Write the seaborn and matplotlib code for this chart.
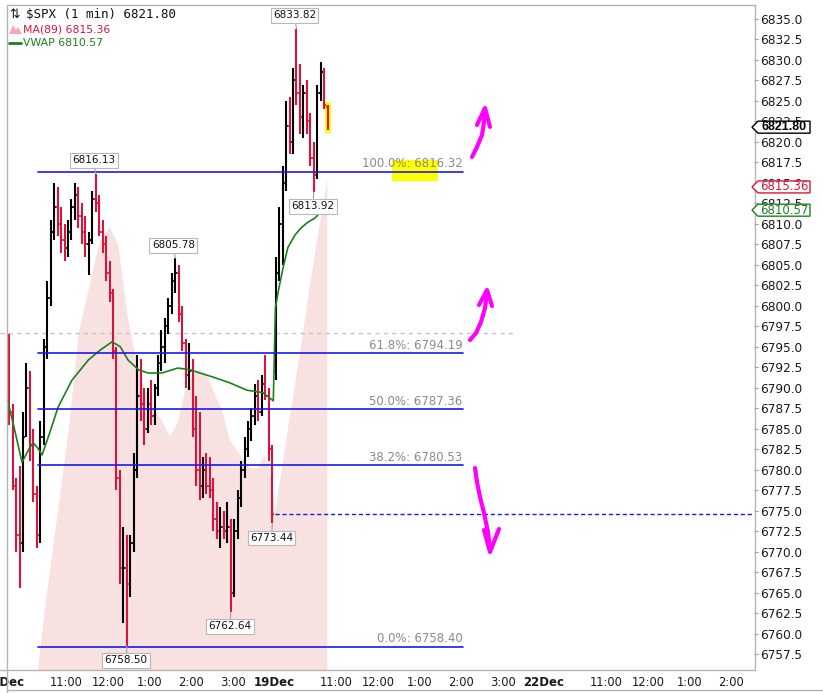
import numpy as np
import pandas as pd
import matplotlib
matplotlib.use("Agg")
import matplotlib.pyplot as plt
import seaborn as sns
from matplotlib.lines import Line2D
from matplotlib.patches import Polygon, Rectangle

# ------------------------------------------------------------------ data
symbol_text = "$SPX (1 min)"
last_price = 6821.80
ma_name = "MA(89)"
ma_last = 6815.36
vwap_name = "VWAP"
vwap_last = 6810.57

day_labels = ["18Dec", "19Dec", "22Dec"]
hour_labels = ["11:00", "12:00", "1:00", "2:00", "3:00"]
hour_offsets_min = [90, 150, 210, 270, 330]  # minutes after the 9:30 open

# 5-minute OHLC, 18 Dec (first bar 9:35)
d18_open = [6794, 6787, 6778, 6772, 6771, 6785, 6790, 6783, 6777, 6773,
            6784, 6795, 6801, 6809, 6812, 6810, 6808, 6807, 6809, 6812,
            6813.5, 6811, 6809, 6807.5, 6808, 6813, 6812.5, 6809, 6807.5, 6804,
            6801.5, 6794.5, 6779, 6768, 6768, 6766, 6771, 6780, 6789, 6788,
            6785, 6788, 6786.5, 6790, 6793, 6795, 6797.5, 6800, 6803, 6804,
            6799, 6795.5, 6791.5, 6792, 6785, 6780, 6778, 6780, 6778, 6777.5,
            6774, 6772.5, 6773, 6772.5, 6773, 6765, 6772.5, 6776.5, 6780, 6782.5,
            6785, 6786.5, 6789, 6787, 6790.5, 6789, 6782.5]
d18_high = [6796.5, 6788, 6779, 6780.5, 6787, 6793, 6792, 6785, 6778, 6786,
            6796, 6803, 6810.5, 6815, 6814.5, 6812, 6810, 6810.5, 6813, 6815,
            6814.5, 6812.5, 6811, 6809, 6814, 6816.13, 6813.5, 6810.5, 6808.5, 6805.5,
            6802, 6795, 6780, 6773, 6772, 6772, 6782, 6794, 6793.5, 6790,
            6790, 6791, 6790.5, 6794, 6797, 6798.5, 6801, 6804, 6805.78, 6805,
            6800, 6796, 6795.5, 6793.5, 6789, 6787, 6781.5, 6782, 6781.5, 6779,
            6776, 6775.5, 6775, 6776, 6774, 6774, 6777.5, 6781, 6784, 6786,
            6787.5, 6790.5, 6791, 6791.5, 6794, 6790, 6783]
d18_low = [6785.5, 6777.5, 6770, 6765.6, 6770, 6784, 6781, 6776, 6770.5, 6771,
           6783, 6793.5, 6800, 6808, 6808.5, 6806.5, 6805.5, 6806, 6808, 6810.5,
           6809.5, 6807.5, 6806, 6803.8, 6807.5, 6811.5, 6808.5, 6806.5, 6803, 6800.5,
           6793.5, 6777.5, 6766, 6761.3, 6758.5, 6764.5, 6770, 6779, 6786, 6783,
           6784.5, 6785.5, 6785.5, 6789, 6792, 6793, 6796.5, 6799, 6801.5, 6798,
           6794.5, 6790, 6789.7, 6784, 6778, 6776.3, 6776.5, 6777, 6776.5, 6772.5,
           6771.5, 6770.5, 6771.5, 6771, 6762.64, 6764.5, 6771.5, 6775.5, 6779, 6781.5,
           6783.5, 6785.5, 6786, 6786.5, 6788.5, 6781, 6773.44]
d18_close = [6787, 6779, 6772, 6770, 6784, 6790, 6783, 6777, 6772, 6784,
             6795, 6801, 6809, 6812, 6810, 6808, 6807, 6809, 6812, 6813.5,
             6811, 6809, 6807.5, 6808, 6813, 6812.5, 6809, 6807.5, 6804, 6801.5,
             6794.5, 6779, 6768, 6768, 6766, 6771, 6780, 6789, 6788, 6785,
             6788, 6786.5, 6790, 6793, 6795, 6797.5, 6800, 6803, 6804, 6799,
             6795.5, 6791.5, 6792, 6785, 6780, 6778, 6780, 6778, 6777.5, 6774,
             6772.5, 6773, 6772.5, 6773, 6765, 6772.5, 6776.5, 6780, 6782.5, 6785,
             6786.5, 6789, 6787, 6790.5, 6789, 6782.5, 6774.59]

# 5-minute OHLC, 19 Dec (first bar 9:30)
d19_open = [6792, 6804, 6810, 6815, 6822, 6820, 6827.5, 6826, 6823, 6826,
            6822.5, 6818, 6816, 6826, 6828.5, 6824.3]
d19_high = [6806, 6812, 6817, 6825, 6825.5, 6829, 6833.82, 6829.5, 6827, 6827.5,
            6823.5, 6820, 6827, 6829.8, 6829, 6824.5]
d19_low = [6791, 6803, 6805, 6814, 6818.5, 6818.5, 6824.5, 6821, 6820.5, 6821,
           6817, 6813.92, 6815.5, 6825, 6824, 6821.5]
d19_close = [6804, 6810, 6815, 6822, 6820, 6827.5, 6826, 6823, 6826, 6822.5,
             6818, 6816, 6826, 6828.5, 6824.5, 6821.8]

# MA(89) and VWAP read at trading minutes counted from 18 Dec 9:30
ma_minutes = [49, 59, 81, 95, 108, 129, 139, 153, 165, 179, 187, 194, 208, 228,
              240, 251, 261, 272, 283, 293, 305, 315, 326, 341, 355, 367, 377,
              387, 391, 413, 428, 442, 457, 467]
ma_values = [6755.5, 6763, 6776.8, 6786, 6796.7, 6804.5, 6808, 6809.6, 6807.4,
             6798.5, 6795, 6792.5, 6788.5, 6786, 6784, 6785.7, 6789.4, 6791.6,
             6792.2, 6791.6, 6789.1, 6787.3, 6783.6, 6781.8, 6780.2, 6780.2,
             6781.8, 6779, 6774.5, 6786.5, 6794.5, 6802.5, 6810.5, 6815.36]
vwap_minutes = [5, 15, 26, 34, 42, 49, 55, 66, 78, 98, 122, 139, 156, 168, 179,
                194, 208, 228, 251, 269, 279, 302, 326, 351, 374, 389, 392, 396,
                403, 410, 420, 429, 439, 449, 464]
vwap_values = [6788.5, 6785.0, 6780.9, 6782.2, 6783.3, 6782.6, 6781.8, 6784.5,
               6787.6, 6790.9, 6793.4, 6794.6, 6795.6, 6795.0, 6793.4, 6792.2,
               6791.8, 6791.8, 6792.4, 6792.2, 6791.9, 6791.3, 6790.6, 6789.7,
               6789.4, 6788.4, 6799.7, 6801.7, 6804.6, 6807.1, 6808.6, 6809.5,
               6810.2, 6810.7, 6812.0]

fib_pcts = ["100.0%", "61.8%", "50.0%", "38.2%", "0.0%"]
fib_levels = [6816.32, 6794.19, 6787.36, 6780.53, 6758.40]
fib_start_min, fib_end_min = 49, 663
prior_close = 6774.59
cursor_level = 6796.7
swing_highs = [6833.82, 6816.13, 6805.78]
swing_lows = [6813.92, 6773.44, 6762.64, 6758.50]

# ------------------------------------------------------------------ style
W, H = 823, 693
X0_PX, PX_PER_MIN = 4.0, 0.6923
SESSION, BAR = 390, 5
UP, DOWN = "#000000", "#d7143c"
PINK = "#f7e1e1"
GREEN = "#1f7f1f"
BLUE = "#1a1aee"
MAGENTA = "#ff00ff"
FRAME = "#b4b4b4"
XLIM = ((0 - X0_PX) / PX_PER_MIN, (754 - X0_PX) / PX_PER_MIN)
YLIM = (6755.55, 6836.71)

sns.set_theme(style="white")
plt.rcParams["font.family"] = ["DejaVu Sans"]

fig = plt.figure(figsize=(W / 100, H / 100), dpi=100)
fig.patch.set_facecolor("white")
ax = fig.add_axes([0, 23 / H, 754 / W, 665 / H])
ax.set_facecolor("white")
for s in ax.spines.values():
    s.set_visible(False)

# axis ticks first (set_xticks may widen limits, so limits are fixed afterwards)
ax.yaxis.tick_right()
yt = np.arange(6757.5, 6835.01, 2.5)
ax.set_yticks(yt)
ax.set_yticklabels([f"{v:.1f}" for v in yt])
ax.tick_params(axis="y", length=3, width=0.8, color="#9a9a9a", pad=1.5,
               labelsize=8.7, labelcolor="#1a1a1a")
xt, xl, bold = [], [], []
for d, dl in enumerate(day_labels):
    if XLIM[0] <= d * SESSION <= XLIM[1]:
        xt.append(d * SESSION); xl.append(dl); bold.append(True)
    for off, hl in zip(hour_offsets_min, hour_labels):
        if d * SESSION + off <= XLIM[1]:
            xt.append(d * SESSION + off); xl.append(hl); bold.append(False)
ax.set_xticks(xt)
ax.set_xticklabels(xl)
ax.tick_params(axis="x", length=0, pad=4, labelsize=8.3, labelcolor="#1a1a1a")
for t, b in zip(ax.get_xticklabels(), bold):
    if b:
        t.set_fontweight("bold")
        t.set_fontsize(8.5)
ax.set_xlim(*XLIM)
ax.set_ylim(*YLIM)


def bars_frame(day, first_start, o, h, l, c):
    start = day * SESSION + first_start + BAR * np.arange(len(o))
    return pd.DataFrame(dict(x=start + BAR / 2, open=o, high=h, low=l, close=c))


bars = pd.concat([bars_frame(0, 5, d18_open, d18_high, d18_low, d18_close),
                  bars_frame(1, 0, d19_open, d19_high, d19_low, d19_close)],
                 ignore_index=True)
cols = np.where(bars.close >= bars.open, UP, DOWN)

# MA(89) shaded area
ax.fill_between(ma_minutes, 6700, ma_values, color=PINK, lw=0, zorder=1)

# grey cursor line and blue dashed prior-close line
ax.plot([XLIM[0], 735], [cursor_level] * 2, color="#c4c4c4", lw=1,
        dashes=(3, 3), zorder=2)
ax.plot([392, XLIM[1]], [prior_close] * 2, color=BLUE, lw=1,
        dashes=(3, 2), zorder=2)

# highlight behind the last bar
last = bars.iloc[-1]
ax.add_patch(Rectangle((last.x - 4.5, last.low - 0.4), 9.5, last.high - last.low + 0.8,
                       fc="#ffff00", ec="none", zorder=2.5))

# OHLC bars
tw = 2.6
ax.vlines(bars.x, bars.low, bars.high, colors=cols, lw=1.5, zorder=3)
ax.hlines(bars.open, bars.x - tw, bars.x, colors=cols, lw=1.2, zorder=3)
ax.hlines(bars.close, bars.x, bars.x + tw, colors=cols, lw=1.2, zorder=3)

# VWAP
sns.lineplot(x=vwap_minutes, y=vwap_values, ax=ax, color=GREEN, lw=1.2,
             estimator=None, sort=False, legend=False, zorder=4)
ax.set_xlim(*XLIM)
ax.set_ylim(*YLIM)

# yellow highlighter on the 100% label (screen annotation)
inv = ax.transData.inverted()
hx0, hy0 = inv.transform((392, H - 181))
hx1, hy1 = inv.transform((438, H - 160))
ax.add_patch(Rectangle((hx0, hy0), hx1 - hx0, hy1 - hy0, fc="#ffff00", ec="none",
                       zorder=4.5))

# Fibonacci lines
for pct, lvl in zip(fib_pcts, fib_levels):
    ax.plot([fib_start_min, fib_end_min], [lvl, lvl], color=BLUE, lw=1.2, zorder=5)
    ax.annotate(f"{pct}: {lvl:.2f}", xy=(fib_end_min - 1, lvl), xytext=(0, 1.2),
                textcoords="offset points", ha="right", va="bottom",
                fontsize=8.5, color="#8a8a8a", zorder=6)

# swing labels
box = dict(boxstyle="square,pad=0.22", fc="white", ec="#b8b8b8", lw=0.8)
arr = dict(arrowstyle="-", color="#a0a0a0", lw=0.8, shrinkA=0, shrinkB=0)
for val in swing_highs:
    i = (bars.high - val).abs().idxmin()
    ax.annotate(f"{val:.2f}", xy=(bars.x[i], val), xytext=(-1.5, 9.5),
                textcoords="offset points", ha="center", va="center", fontsize=7.5,
                color="#111111", bbox=box, arrowprops=arr, zorder=8)
for val in swing_lows:
    i = (bars.low - val).abs().idxmin()
    ax.annotate(f"{val:.2f}", xy=(bars.x[i], val), xytext=(-0.5, -10.5),
                textcoords="offset points", ha="center", va="center", fontsize=7.5,
                color="#111111", bbox=box, arrowprops=arr, zorder=8)


# ------------------------------------------------------------------ frame & overlays
def fl(xs, ys, **kw):
    fig.add_artist(Line2D([x / W for x in xs], [1 - y / H for y in ys],
                          transform=fig.transFigure, **kw))


fl([7, 7], [5, 693], color=FRAME, lw=1)
fl([7, 755], [5, 5], color=FRAME, lw=1)
fl([755, 755], [5, 670], color=FRAME, lw=1)
fl([0, 755], [670, 670], color=FRAME, lw=1)
fl([7, 823], [690, 690], color=FRAME, lw=1)


def val_to_py(v):
    return H - ax.transData.transform((0, v))[1]


tags = [(last_price, "#000000", True, 0), (ma_last, "#dc143c", False, 7),
        (vwap_last, GREEN, False, -9)]
for val, col, bld, nudge in tags:
    yc = val_to_py(val) + nudge
    pts = [(752, yc), (758, yc - 6), (810, yc - 6), (810, yc + 6), (758, yc + 6)]
    fig.add_artist(Polygon([(x / W, 1 - y / H) for x, y in pts], closed=True,
                           transform=fig.transFigure, fc="white", ec=col, lw=1.0,
                           zorder=10))
    if bld:
        fig.text(784 / W, 1 - yc / H, f"{val:.2f}", ha="center", va="center",
                 fontsize=9, fontweight="bold", family="Liberation Sans",
                 color=col, zorder=11)
    else:
        fig.text(784 / W, 1 - yc / H, f"{val:.2f}", ha="center", va="center",
                 fontsize=8.5, color=col, zorder=11)

# legend block (top-left)
fig.text(9 / W, 1 - 15 / H, "\u21c5", fontsize=9, va="center", ha="left",
         color="#111111", zorder=11)
fig.text(26 / W, 1 - 15 / H, symbol_text.replace("$", r"\$") + f" {last_price:.2f}",
         family="DejaVu Sans Mono", fontsize=9, va="center", ha="left",
         color="#111111", zorder=11)
fig.add_artist(Polygon([(x / W, 1 - y / H) for x, y in
                        [(9, 34), (13, 25), (16, 30), (18, 27), (22, 34)]],
                       closed=True, transform=fig.transFigure, fc="#f3a9b6",
                       ec="none", zorder=11))
fig.text(23 / W, 1 - 29.5 / H, f"{ma_name} {ma_last:.2f}", fontsize=7.8,
         va="center", ha="left", color="#dc143c", zorder=11)
fl([9, 21], [43, 43], color=GREEN, lw=2, zorder=11)
fig.text(23 / W, 1 - 43 / H, f"{vwap_name} {vwap_last:.2f}", fontsize=7.8,
         va="center", ha="left", color=GREEN, zorder=11)

# hand-drawn magenta arrows (screen annotations, pixel coordinates)
arrow_shafts = [
    [(472, 157), (477, 147), (482, 135), (484, 122), (485, 110)],
    [(470, 340), (476, 333), (481, 322), (485, 308), (487, 292)],
    [(475, 468), (477, 482), (480, 497), (484, 513), (488, 532), (490, 550)],
]
arrow_heads = [
    [(477, 125), (485, 108), (490, 127)],
    [(479, 305), (487, 290), (492, 306)],
    [(484, 530), (490, 552), (499, 529)],
]
for pts in arrow_shafts + arrow_heads:
    fl([p[0] for p in pts], [p[1] for p in pts], color=MAGENTA, lw=3,
       solid_capstyle="round", solid_joinstyle="round", zorder=12)

fig.savefig("out.png", dpi=100, facecolor="white")
